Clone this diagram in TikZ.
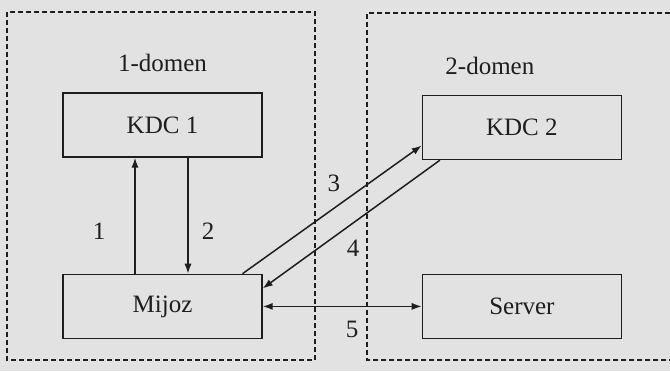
\documentclass[tikz,border=0pt]{standalone}
\usepackage{fontspec}
\setmainfont{Liberation Serif}
\usetikzlibrary{positioning,arrows.meta}
\definecolor{scan}{RGB}{226,226,226}
\definecolor{ink}{RGB}{30,30,30}

\begin{document}
\begin{tikzpicture}[x=0.5pt,y=-0.5pt,node distance=58pt and 79.5pt,
  box/.style={rectangle,draw=ink,line width=0.7pt,minimum width=99.5pt,minimum height=32pt,font=\fontsize{12.5}{15}\selectfont,text=ink},
  dom/.style={font=\fontsize{12.5}{15}\selectfont,text=ink},
  num/.style={font=\fontsize{12.5}{15}\selectfont,text=ink,inner sep=1pt},
  zone/.style={draw=ink,line width=0.6pt,dash pattern=on 2.5pt off 1.5pt},
  a/.style={draw=ink,line width=0.75pt,-{Latex[length=5pt,width=3.6pt]}},
  aa/.style={draw=ink,line width=0.75pt,{Latex[length=5pt,width=3.6pt]}-{Latex[length=5pt,width=3.6pt]}}]
  \path[use as bounding box,fill=scan] (0,0) rectangle (670,371);
  % domains
  \draw[zone] (7,12) rectangle (315,360);
  \draw[zone] (670,13) -- (367,13) -- (367,360) -- (670,360);
  \node[box] (kdc1) at (162.5,125) {KDC 1};
  \node[box,below=of kdc1] (mijoz) {Mijoz};
  \node[box,right=of kdc1,yshift=-1.25pt] (kdc2) {KDC 2};
  \node[box,right=of mijoz] (server) {Server};
  \node[dom,above=6.5pt of kdc1] (dom1) {1-domen};
  \node[dom,above=6.5pt of kdc2,xshift=-16pt] (dom2) {2-domen};
  % messages
  \draw[a] ([xshift=-13.75pt]mijoz.north) -- node[num,pos=.37,left=13.5pt] (n1) {1} ([xshift=-13.75pt]kdc1.south);
  \draw[a] ([xshift=12.75pt]kdc1.south) -- node[num,pos=.63,right=5.5pt] (n2) {2} ([xshift=12.75pt]mijoz.north);
  \draw[a] ([xshift=40pt]mijoz.north) -- node[num,pos=.51,above=7pt] (n3) {3} ([yshift=-9pt]kdc2.west);
  \draw[a] ([xshift=-41pt]kdc2.south) -- node[num,pos=.49,below=7pt] (n4) {4} ([yshift=9pt]mijoz.east);
  \draw[aa] (mijoz.east) -- node[num,below=6.2pt,xshift=5pt] (n5) {5} (server.west);
\end{tikzpicture}
\end{document}
